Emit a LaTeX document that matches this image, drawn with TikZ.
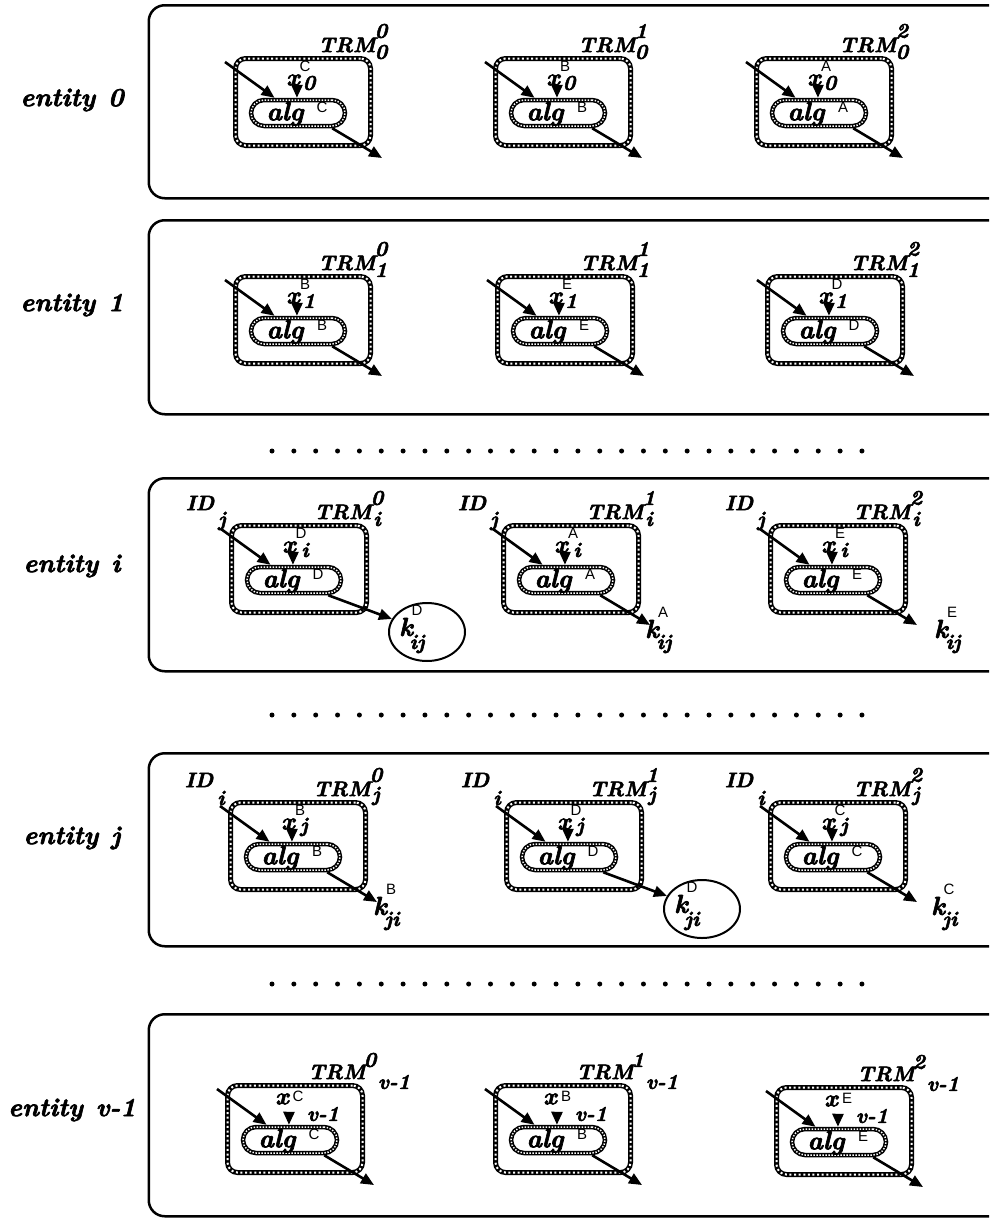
\documentclass[tikz,border=0pt]{standalone}
\usepackage{fontspec}
\setmainfont{Latin Modern Roman}[BoldItalicFeatures={FakeBold=2.5}]
\newfontfamily\lsans{Liberation Sans}
\usetikzlibrary{arrows.meta,shapes.geometric}
\tikzset{
  rowbox/.style={draw, line width=2.5pt, rounded corners=16pt},
  trmbox/.style={draw, line width=5pt, rounded corners=10pt, minimum width=135pt, minimum height=87pt, inner sep=0pt,
     postaction={draw=white, line width=2pt, dash pattern=on 2pt off 2.6pt}},
  capsule/.style={draw, line width=4.5pt, rounded corners=13pt, minimum width=94pt, minimum height=26pt, inner sep=0pt,
     postaction={draw=white, line width=1.5pt, dash pattern=on 1.4pt off 1.6pt}},
  arr/.style={line width=2.6pt, -{Triangle[length=13pt,width=11pt]}},
  entf/.style={inner sep=0pt, font=\fontsize{26}{30}\selectfont\bfseries\itshape},
  algf/.style={inner sep=0pt, font=\fontsize{26}{30}\selectfont\bfseries\itshape},
  xf/.style={inner sep=0pt, font=\fontsize{24}{26}\selectfont\bfseries\itshape},
  midf/.style={inner sep=0pt, font=\fontsize{21}{24}\selectfont\bfseries\itshape},
  supf/.style={inner sep=0pt, font=\fontsize{15}{17}\selectfont\lsans},
  kcirc/.style={draw, ellipse, line width=2pt, minimum width=76pt, minimum height=58pt, inner sep=0pt},
  dotf/.style={fill, circle, inner sep=0pt, minimum size=5pt},
}
% module core: name, cx, cy, alg letter
\newcommand{\modcore}[4]{%
  \node[trmbox] (#1b) at ({#2+5},{#3-11}) {};
  \node[capsule] (#1c) at (#2,#3) {};
  \node[algf] (#1a) at ({#2-13},{#3+1}) {alg};
  \node[supf] (#1as) at ({#2+24},{#3-6}) {#4};
  \coordinate (#1in) at ({#2-73},{#3-51});
  \coordinate (#1xt) at ({#2-1},{#3-27});
  \coordinate (#1out) at ({#2+84},{#3+45});
  \draw[arr] (#1in) -- (#1c.147);
  \draw[arr] (#1xt) -- (#1c.94);
}
% standard labels: name, cx, cy, x letter, x sub, TRM sup, TRM sub
\newcommand{\stdlab}[7]{%
  \node[xf] (#1x) at ({#2-5},{#3-33}) {x};
  \node[supf] (#1xs) at ({#2+7},{#3-47}) {#4};
  \node[midf] (#1xi) at ({#2+11},{#3-30}) {#5};
  \node[midf] (#1t) at ({#2+49},{#3-68}) {TRM};
  \node[midf] (#1ts) at ({#2+83},{#3-82}) {#6};
  \node[midf] (#1ti) at ({#2+83},{#3-61}) {#7};
}
% v-1 labels: name, cx, cy, x letter, TRM sup
\newcommand{\vlab}[5]{%
  \node[xf] (#1x) at ({#2-8},{#3-41}) {x};
  \node[supf] (#1xs) at ({#2+8},{#3-44}) {#4};
  \node[midf] (#1xi) at ({#2+33},{#3-26}) {v-1};
  \node[midf] (#1t) at ({#2+47},{#3-68}) {TRM};
  \node[midf] (#1ts) at ({#2+80},{#3-80}) {#5};
  \node[midf] (#1ti) at ({#2+104},{#3-58}) {v-1};
}
% ID label: name, cx, cy, sub
\newcommand{\idlab}[4]{%
  \node[midf] (#1id) at ({#2-94},{#3-77}) {ID};
  \node[midf] (#1ids) at ({#2-72},{#3-59}) {#4};
}
\newcommand{\outplain}[1]{\draw[arr] (#1c.-24) -- (#1out);}
% plain k: name, cx, cy, sup, sub, dx
\newcommand{\kplain}[6]{%
  \draw[arr] (#1c.-24) -- (#1out);
  \node[algf] (#1k) at ({#2+90+#6},{#3+49}) {k};
  \node[supf] (#1ks) at ({#2+101+#6},{#3+32}) {#4};
  \node[midf] (#1ki) at ({#2+102+#6},{#3+64}) {#5};
}
% circled k: name, cx, cy, sup, sub
\newcommand{\kcircle}[5]{%
  \node[kcirc] (#1e) at ({#2+133},{#3+52}) {};
  \draw[arr] (#1c.-24) -- (#1e);
  \node[algf] (#1k) at ({#2+112},{#3+47}) {k};
  \node[supf] (#1ks) at ({#2+123},{#3+30}) {#4};
  \node[midf] (#1ki) at ({#2+123},{#3+64}) {#5};
}
\begin{document}
\begin{tikzpicture}[x=1pt,y=-1pt]
\useasboundingbox (0,0) rectangle (989,1218);
\clip (0,0) rectangle (989,1218);
\fill[white] (0,0) rectangle (989,1218);

% row boxes
\node[rowbox, anchor=north west, minimum width=860pt, minimum height=193pt] (r0) at (147.5,4) {};
\node[rowbox, anchor=north west, minimum width=860pt, minimum height=194pt] (r1) at (147.5,219) {};
\node[rowbox, anchor=north west, minimum width=860pt, minimum height=193pt] (ri) at (147.5,477) {};
\node[rowbox, anchor=north west, minimum width=860pt, minimum height=193pt] (rj) at (147.5,752) {};
\node[rowbox, anchor=north west, minimum width=860pt, minimum height=202pt] (rv) at (147.5,1013) {};

% entity labels
\node[entf] (e0) at (72,100) {entity\hspace{0.5em}0};
\node[entf] (e1) at (72,305) {entity\hspace{0.5em}1};
\node[entf] (ei) at (72,566) {entity\hspace{0.5em}i};
\node[entf] (ej) at (72,838) {entity\hspace{0.5em}j};
\node[entf] (ev) at (72,1110) {entity\hspace{0.5em}v-1};

% dots
\foreach \r/\yy in {a/451,b/715,c/984}{
  \foreach \i in {0,...,27}{
    \node[dotf] (d\r\i) at ({272+21.85*\i},\yy) {};
  }
}

% row 0
\modcore{m00}{298}{113}{C}\stdlab{m00}{298}{113}{C}{0}{0}{0}\outplain{m00}
\modcore{m01}{558}{113}{B}\stdlab{m01}{558}{113}{B}{0}{1}{0}\outplain{m01}
\modcore{m02}{819}{113}{A}\stdlab{m02}{819}{113}{A}{0}{2}{0}\outplain{m02}

% row 1
\modcore{m10}{298}{331}{B}\stdlab{m10}{298}{331}{B}{1}{0}{1}\outplain{m10}
\modcore{m11}{560}{331}{E}\stdlab{m11}{560}{331}{E}{1}{1}{1}\outplain{m11}
\modcore{m12}{830}{331}{D}\stdlab{m12}{830}{331}{D}{1}{2}{1}\outplain{m12}

% row i
\modcore{mi0}{294}{580}{D}\stdlab{mi0}{294}{580}{D}{i}{0}{i}\idlab{mi0}{294}{580}{j}\kcircle{mi0}{294}{580}{D}{ij}
\modcore{mi1}{566}{580}{A}\stdlab{mi1}{566}{580}{A}{i}{1}{i}\idlab{mi1}{566}{580}{j}\kplain{mi1}{566}{580}{A}{ij}{-4}
\modcore{mi2}{833}{580}{E}\stdlab{mi2}{833}{580}{E}{i}{2}{i}\idlab{mi2}{833}{580}{j}\kplain{mi2}{833}{580}{E}{ij}{18}

% row j
\modcore{mj0}{293}{857}{B}\stdlab{mj0}{293}{857}{B}{j}{0}{j}\idlab{mj0}{293}{857}{i}\kplain{mj0}{293}{857}{B}{ji}{-3}
\modcore{mj1}{569}{857}{D}\stdlab{mj1}{569}{857}{D}{j}{1}{j}\idlab{mj1}{569}{857}{i}\kcircle{mj1}{569}{857}{D}{ji}
\modcore{mj2}{833}{857}{C}\stdlab{mj2}{833}{857}{C}{j}{2}{j}\idlab{mj2}{833}{857}{i}\kplain{mj2}{833}{857}{C}{ji}{15}

% row v-1
\modcore{mv0}{290}{1140}{C}\vlab{mv0}{290}{1140}{C}{0}\outplain{mv0}
\modcore{mv1}{558}{1140}{B}\vlab{mv1}{558}{1140}{B}{1}\outplain{mv1}
\modcore{mv2}{839}{1142}{E}\vlab{mv2}{839}{1142}{E}{2}\outplain{mv2}
\end{tikzpicture}
\end{document}
